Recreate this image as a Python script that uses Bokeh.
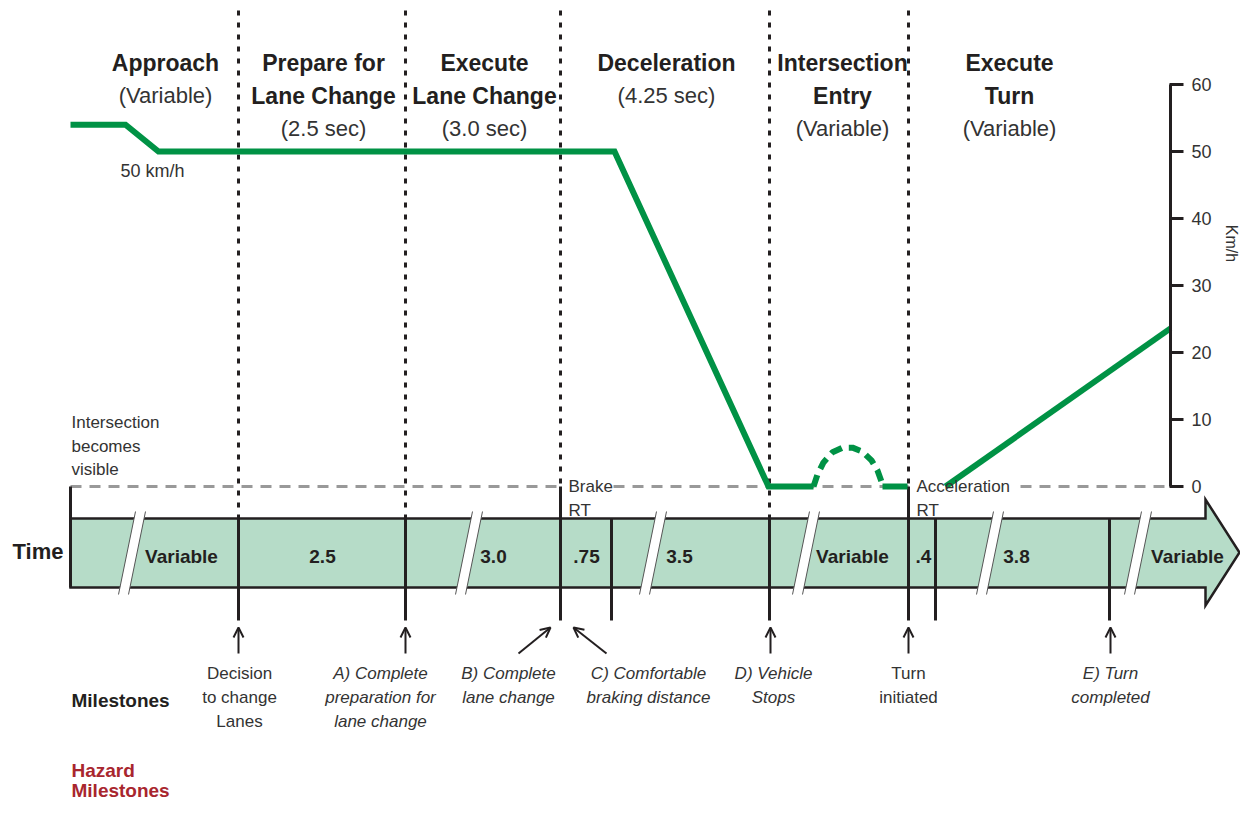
import math
from bokeh.plotting import figure
from bokeh.models import Range1d, ColumnDataSource, Arrow, OpenHead
from bokeh.core.properties import value
from bokeh.embed import file_html
from bokeh.resources import INLINE

FONT = "Liberation Sans"
INK = "#231f20"
GREY_TXT = "#333333"
GREEN = "#009245"
BAND = "#b6dcc8"
HAZARD = "#a8262e"

# ---------------- data ----------------
# phase headers (schematic timeline position of each header centre)
phase_names = ["Approach", "Prepare for\nLane Change", "Execute\nLane Change",
               "Deceleration", "Intersection\nEntry", "Execute\nTurn"]
phase_durations = ["(Variable)", "(2.5 sec)", "(3.0 sec)", "(4.25 sec)", "(Variable)", "(Variable)"]
phase_pos = [165, 323, 484, 666, 842, 1009]

# phase boundaries (dotted) and event markers on the time band
boundary_pos = [238, 405, 560, 769, 908]
boundary_stop = [518, 518, 486, 518, 486]
event_pos = [70, 238, 405, 560, 611, 769, 908, 935, 1109]
event_top = [486, 518, 518, 486, 518, 518, 486, 518, 518]
event_bottom = [587, 620, 620, 620, 620, 620, 620, 620, 620]

# time band segment labels
band_labels = ["Variable", "2.5", "3.0", ".75", "3.5", "Variable", ".4", "3.8", "Variable"]
band_label_pos = [181, 322, 493, 586, 679, 852, 923, 1016, 1187]
break_pos = [131, 468, 652, 805, 989, 1137]

# vehicle speed profile (km/h)
speed_t = [70, 125, 158, 614, 768, 813]
speed_kmh = [54, 54, 50, 50, 0, 0]
hump_t = [813, 817, 823, 832, 842, 852, 862, 871, 877, 882]
hump_kmh = [0, 1.8, 3.6, 5.1, 5.8, 5.8, 5.2, 3.9, 2.4, 0.3]
wait_t = [882, 907]
wait_kmh = [0, 0]
accel_t = [945, 1170]
accel_kmh = [0, 23.6]

speed_ticks = [0, 10, 20, 30, 40, 50, 60]

milestone_labels = ["Decision\nto change\nLanes", "A) Complete\npreparation for\nlane change",
                    "B) Complete\nlane change", "C) Comfortable\nbraking distance",
                    "D) Vehicle\nStops", "Turn\ninitiated", "E) Turn\ncompleted"]
milestone_italic = [False, True, True, True, True, False, True]
milestone_pos = [239, 380, 508, 648, 773, 908, 1110]
arrow_from = [238, 405, 518, 606, 770, 908, 1110]
arrow_to = [238, 405, 550, 573, 770, 908, 1110]

# ---------------- figure ----------------
W, H = 1240, 800
PX_PER_KMH = 6.7
ZERO_Y = 486
p = figure(width=W, height=H, x_range=Range1d(0, W), y_range=Range1d(H, 0),
           output_backend="svg", toolbar_location=None, min_border=0,
           x_axis_location=None, y_axis_location=None, outline_line_color=None)
p.grid.visible = False
p.extra_y_ranges = {"kmh": Range1d(start=(ZERO_Y - H) / PX_PER_KMH, end=ZERO_Y / PX_PER_KMH)}


def txt(xs, ys, texts, size, style="normal", color=INK, align="center", baseline="middle", angle=0, **kw):
    p.text(x=xs, y=ys, text=texts, text_font=value(FONT), text_font_size=size,
           text_font_style=style, text_color=color, text_align=align,
           text_baseline=baseline, angle=angle, **kw)


# time band arrow
bx = [70, 1205, 1205, 1239, 1205, 1205, 70]
by = [518, 518, 499, 552, 605, 587, 587]
p.patch(bx, by, fill_color=BAND, line_color=INK, line_width=2.5, line_join="miter")

# break marks
for c in break_pos:
    p.patch([c - 13, c - 3, c + 14, c + 4], [594, 594, 511, 511], fill_color="white", line_color=None)
    p.segment(x0=[c - 13, c - 3], y0=[594, 594], x1=[c + 4, c + 14], y1=[511, 511],
              line_color="#555555", line_width=1)

# gray dashed "0 km/h" reference line (interrupted by labels)
p.segment(x0=[70, 613, 1020], y0=[486] * 3, x1=[560, 908, 1165], y1=[486] * 3,
          line_color="#999999", line_width=3, line_dash="11 8")

# event lines
p.segment(x0=event_pos, y0=event_top, x1=event_pos, y1=event_bottom, line_color=INK, line_width=3)
# phase boundaries
p.segment(x0=boundary_pos, y0=[10] * len(boundary_pos), x1=boundary_pos, y1=boundary_stop,
          line_color=INK, line_width=3, line_dash="5 7")

# speed profile
p.line(speed_t, speed_kmh, y_range_name="kmh", line_color=GREEN, line_width=6, line_join="miter")
p.line(hump_t, hump_kmh, y_range_name="kmh", line_color=GREEN, line_width=6, line_dash="12 7")
p.line(wait_t, wait_kmh, y_range_name="kmh", line_color=GREEN, line_width=6)
p.line(accel_t, accel_kmh, y_range_name="kmh", line_color=GREEN, line_width=6)

# right speed axis
p.segment(x0=[1170], y0=[speed_ticks[0]], x1=[1170], y1=[speed_ticks[-1]], y_range_name="kmh",
          line_color=INK, line_width=3)
p.segment(x0=[1169] * len(speed_ticks), y0=speed_ticks, x1=[1183] * len(speed_ticks), y1=speed_ticks,
          y_range_name="kmh", line_color=INK, line_width=3)
p.text(x=[1191] * len(speed_ticks), y=speed_ticks, text=[str(t) for t in speed_ticks],
       y_range_name="kmh", text_font=value(FONT), text_font_size="18px", text_color=GREY_TXT,
       text_align="left", text_baseline="middle")
txt([1231], [243], ["Km/h"], "16px", color=GREY_TXT, angle=-math.pi / 2)

# phase headers
hx, hy, ht = [], [], []
dx, dy, dt = [], [], []
for name, dur, c in zip(phase_names, phase_durations, phase_pos):
    lines = name.split("\n")
    for i, ln in enumerate(lines):
        hx.append(c); hy.append(62 + 33 * i); ht.append(ln)
    dx.append(c); dy.append(62 + 33 * len(lines)); dt.append(dur)
txt(hx, hy, ht, "23px", style="bold")
txt(dx, dy, dt, "22px", color=GREY_TXT)

txt([152], [170], ["50 km/h"], "18px", color=GREY_TXT)

# small annotation texts
txt([71, 71, 71], [422, 446, 469], ["Intersection", "becomes", "visible"], "17px",
    color=GREY_TXT, align="left")
txt([568, 568], [486, 510], ["Brake", "RT"], "17px", color=GREY_TXT, align="left")
txt([916, 916], [486, 510], ["Acceleration", "RT"], "17px", color=GREY_TXT, align="left")

# band labels
txt(band_label_pos, [556] * len(band_labels), band_labels, "19px", style="bold")
txt([12], [551], ["Time"], "22px", style="bold", align="left")

# milestones
arr_src = ColumnDataSource(dict(x0=arrow_from, y0=[653] * 7, x1=arrow_to, y1=[627] * 7))
p.add_layout(Arrow(x_start="x0", y_start="y0", x_end="x1", y_end="y1", source=arr_src,
                   line_color=INK, line_width=2,
                   end=OpenHead(size=10, line_width=2, line_color=INK)))

mx, my, mt, mxi, myi, mti = [], [], [], [], [], []
for lab, it, c in zip(milestone_labels, milestone_italic, milestone_pos):
    for i, ln in enumerate(lab.split("\n")):
        if it:
            mxi.append(c); myi.append(673 + 24 * i); mti.append(ln)
        else:
            mx.append(c); my.append(673 + 24 * i); mt.append(ln)
txt(mx, my, mt, "17px", color=GREY_TXT)
txt(mxi, myi, mti, "17px", style="italic", color=GREY_TXT)

txt([71], [700], ["Milestones"], "19px", style="bold", align="left")
txt([71, 71], [770, 790], ["Hazard", "Milestones"], "19px", style="bold", color=HAZARD, align="left")

open("out.html", "w").write(file_html(p, INLINE))
